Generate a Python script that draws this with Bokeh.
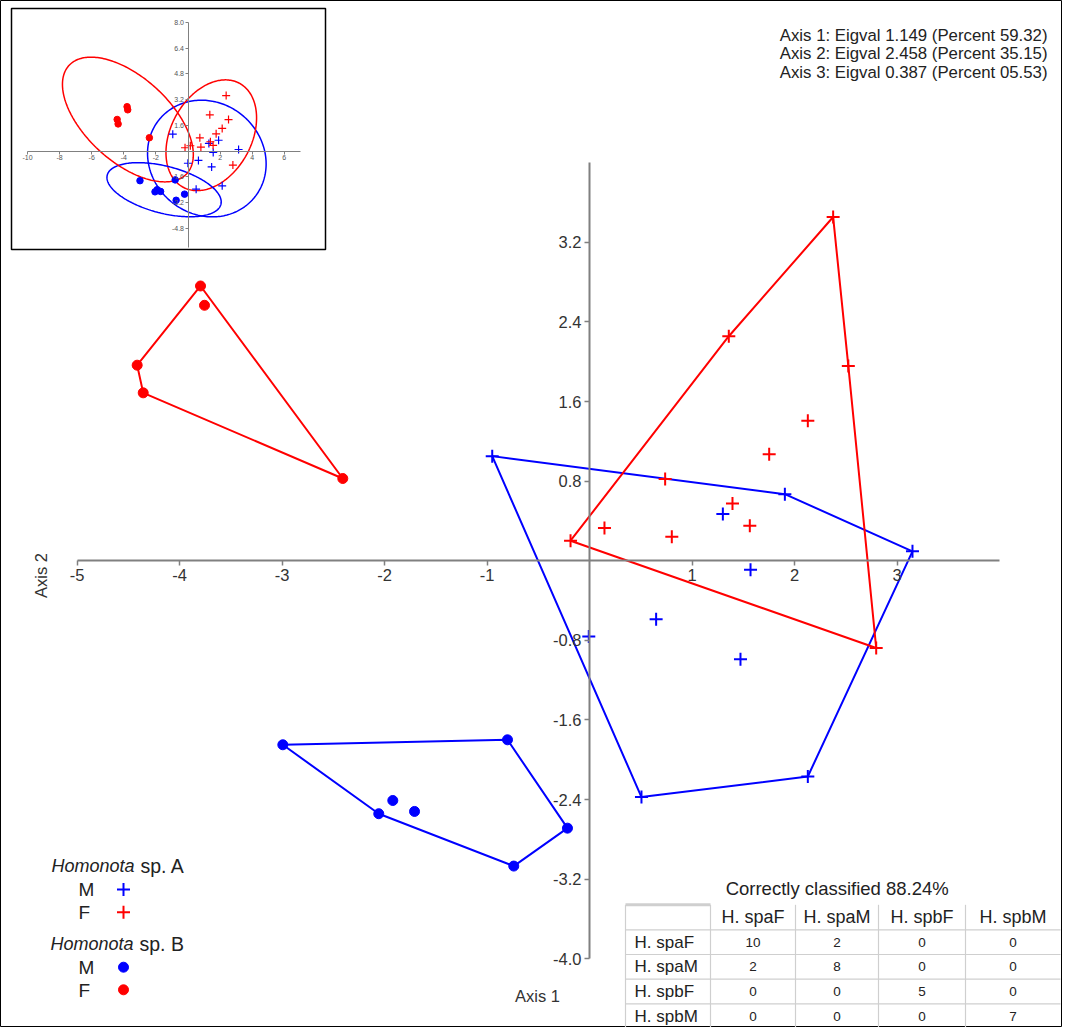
import numpy as np
from bokeh.plotting import figure
from bokeh.models import Range1d, LinearAxis, FixedTicker, NumeralTickFormatter
from bokeh.core.properties import value
from bokeh.embed import file_html
from bokeh.resources import INLINE

# ---------------- data ----------------
# Homonota sp. A, males (blue crosses)
spA_M_x = [-0.949, 1.906, 3.151, 1.301, 1.571, 0.650, -0.007, 1.473, 2.130, 0.507]
spA_M_y = [1.051, 0.669, 0.094, 0.469, -0.090, -0.589, -0.763, -0.991, -2.169, -2.376]
# Homonota sp. A, females (red crosses)
spA_F_x = [2.377, 1.359, 2.525, 2.130, 1.753, 0.738, 1.395, 1.564, 0.146, 0.803, -0.185, 2.797]
spA_F_y = [3.454, 2.256, 1.958, 1.406, 1.071, 0.820, 0.575, 0.351, 0.328, 0.241, 0.201, -0.877]
# Homonota sp. B, males (blue dots)
spB_M_x = [-2.992, -0.800, -0.215, -0.739, -2.056, -1.919, -1.707]
spB_M_y = [-1.850, -1.800, -2.688, -3.069, -2.543, -2.410, -2.520]
# Homonota sp. B, females (red dots)
spB_F_x = [-3.795, -3.756, -4.413, -4.354, -2.407]
spB_F_y = [2.761, 2.567, 1.965, 1.687, 0.826]

x_ticks = [-5, -4, -3, -2, -1, 1, 2, 3]
y_ticks = [-4.0, -3.2, -2.4, -1.6, -0.8, 0.8, 1.6, 2.4, 3.2]
inset_x_ticks = [-10, -8, -6, -4, -2, 2, 4, 6]
inset_y_ticks = [-4.8, -3.2, -1.6, 1.6, 3.2, 4.8, 6.4, 8.0]

eig_axes = ["Axis 1", "Axis 2", "Axis 3"]
eig_vals = ["1.149", "2.458", "0.387"]
eig_pct = ["59.32", "35.15", "05.53"]

classes = ["H. spaF", "H. spaM", "H. spbF", "H. spbM"]
confusion = [[10, 2, 0, 0],
             [2, 8, 0, 0],
             [0, 0, 5, 0],
             [0, 0, 0, 7]]

# ---------------- helpers ----------------
def convex_hull(xs, ys):
    pts = sorted(set(zip(xs, ys)))
    def cross(o, a, b):
        return (a[0]-o[0])*(b[1]-o[1]) - (a[1]-o[1])*(b[0]-o[0])
    lower = []
    for q in pts:
        while len(lower) >= 2 and cross(lower[-2], lower[-1], q) <= 0:
            lower.pop()
        lower.append(q)
    upper = []
    for q in reversed(pts):
        while len(upper) >= 2 and cross(upper[-2], upper[-1], q) <= 0:
            upper.pop()
        upper.append(q)
    h = lower[:-1] + upper[:-1]
    h.append(h[0])
    return [q[0] for q in h], [q[1] for q in h]

def ellipse95(xs, ys):
    X = np.array([xs, ys], dtype=float)
    n = X.shape[1]
    m = X.mean(axis=1)
    C = np.cov(X)
    vals, vecs = np.linalg.eigh(C)
    k = np.sqrt((n - 1) * (0.05 ** (-2.0 / (n - 2)) - 1.0))
    t = np.linspace(0, 2 * np.pi, 240)
    pts = (m[:, None] + k * (vecs[:, [0]] * np.sqrt(vals[0]) * np.cos(t)
                             + vecs[:, [1]] * np.sqrt(vals[1]) * np.sin(t)))
    return pts[0], pts[1]

# ---------------- figure ----------------
W, H = 1062, 1027
OX, OY = 0, 0
# main scale (screen px)
MX0, MXS = 589.0, 102.5
MY0, MYS = 560.2, 99.5
# inset scale
IX0, IY0, IS = 187.5, 150.5, 16.05

FONT = "Liberation Sans"
BLUE = "#0000ff"
RED = "#ff0000"
AXC = "#808080"
TXT = "#333333"

p = figure(width=W, height=H,
           x_range=Range1d((OX - MX0) / MXS, (OX + W - MX0) / MXS),
           y_range=Range1d((MY0 - (OY + H)) / MYS, (MY0 - OY) / MYS),
           min_border=0, toolbar_location=None, output_backend="svg",
           x_axis_location=None, y_axis_location=None)
p.grid.visible = False
p.outline_line_color = "#000000"
p.outline_line_width = 1
p.background_fill_color = "white"
p.border_fill_color = "white"

p.extra_x_ranges = {"px": Range1d(OX, OX + W),
                    "ix": Range1d((OX - IX0) / IS, (OX + W - IX0) / IS)}
p.extra_y_ranges = {"py": Range1d(OY + H, OY),
                    "iy": Range1d((IY0 - (OY + H)) / IS, (IY0 - OY) / IS)}

# ---- main axes crossing at origin ----
xa = LinearAxis(fixed_location=0, bounds=(-5, 4), ticker=FixedTicker(ticks=x_ticks),
                formatter=NumeralTickFormatter(format="0"))
ya = LinearAxis(fixed_location=0, bounds=(-4, 4), ticker=FixedTicker(ticks=y_ticks),
                formatter=NumeralTickFormatter(format="0.0"))
for ax in (xa, ya):
    ax.axis_line_color = AXC
    ax.axis_line_width = 2
    ax.major_tick_line_color = AXC
    ax.major_tick_line_width = 1.5
    ax.major_tick_in = 0
    ax.major_tick_out = 5
    ax.minor_tick_line_color = None
    ax.major_label_text_font = FONT
    ax.major_label_text_font_size = "16.5px"
    ax.major_label_text_color = TXT
    ax.major_label_standoff = 3
p.add_layout(xa, "below")
p.add_layout(ya, "left")

# ---- hulls and points ----
groups = [
    (spA_M_x, spA_M_y, BLUE, "cross"),
    (spA_F_x, spA_F_y, RED, "cross"),
    (spB_M_x, spB_M_y, BLUE, "circle"),
    (spB_F_x, spB_F_y, RED, "circle"),
]
for gx, gy, col, mk in groups:
    hx, hy = convex_hull(gx, gy)
    p.line(hx, hy, line_color=col, line_width=2)
for gx, gy, col, mk in groups:
    if mk == "cross":
        p.scatter(gx, gy, marker="cross", size=13, line_color=col, line_width=2)
    else:
        p.scatter(gx, gy, marker="circle", size=10, fill_color=col, line_color=col)

# ---- inset ----
p.quad(left=[11], right=[325], top=[8], bottom=[249], fill_color="white",
       line_color="#000000", line_width=1.5, x_range_name="px", y_range_name="py")
ixa = LinearAxis(fixed_location=0, bounds=(-10, 7), ticker=FixedTicker(ticks=inset_x_ticks),
                 formatter=NumeralTickFormatter(format="0"),
                 x_range_name="ix", y_range_name="iy")
iya = LinearAxis(fixed_location=0, bounds=(-6, 8), ticker=FixedTicker(ticks=inset_y_ticks),
                 formatter=NumeralTickFormatter(format="0.0"),
                 x_range_name="ix", y_range_name="iy")
for ax in (ixa, iya):
    ax.axis_line_color = AXC
    ax.axis_line_width = 1
    ax.major_tick_line_color = AXC
    ax.major_tick_in = 0
    ax.major_tick_out = 3
    ax.minor_tick_line_color = None
    ax.major_label_text_font = FONT
    ax.major_label_text_font_size = "7px"
    ax.major_label_text_color = "#555555"
    ax.major_label_standoff = 1
p.add_layout(ixa, "below")
p.add_layout(iya, "left")

for gx, gy, col, mk in groups:
    ex, ey = ellipse95(gx, gy)
    p.line(ex, ey, line_color=col, line_width=1.5, x_range_name="ix", y_range_name="iy")
for gx, gy, col, mk in groups:
    if mk == "cross":
        p.scatter(gx, gy, marker="cross", size=8, line_color=col, line_width=1.2,
                  x_range_name="ix", y_range_name="iy")
    else:
        p.scatter(gx, gy, marker="circle", size=6.5, fill_color=col, line_color=col,
                  x_range_name="ix", y_range_name="iy")

# ---- texts ----
def txt(x, y, t, size, align="left", color=TXT, style="normal", angle=0.0):
    p.text(x=x, y=y, text=t, x_range_name="px", y_range_name="py",
           text_font=value(FONT), text_font_size=value(size), text_align=align,
           text_baseline="middle", text_color=color, text_font_style=style, angle=angle)

eig_lines = [f"{a}: Eigval {v} (Percent {c})" for a, v, c in zip(eig_axes, eig_vals, eig_pct)]
txt([1047] * 3, [35, 53.4, 71.8], eig_lines, "16.8px", align="right", color="#222222")

txt([537], [995], ["Axis 1"], "16.5px", align="center")
txt([40], [575], ["Axis 2"], "16.5px", align="center", angle=np.pi / 2)

# ---- legend ----
txt([51, 50], [865, 943.3], ["Homonota", "Homonota"], "18px", color="#222222", style="italic")
txt([140, 139], [865, 943.3], ["sp. A", "sp. B"], "19.5px", color="#222222")
txt([78, 78, 78, 78], [889, 911.7, 966.7, 989.7], ["M", "F", "M", "F"], "19px", color="#222222")
p.scatter([123, 123], [889, 911.7], marker="cross", size=13, line_color=[BLUE, RED], line_width=2,
          x_range_name="px", y_range_name="py")
p.scatter([123, 123], [966.7, 989.3], marker="circle", size=10, fill_color=[BLUE, RED],
          line_color=[BLUE, RED], x_range_name="px", y_range_name="py")

# ---- classification table ----
total = sum(sum(r) for r in confusion)
correct = sum(confusion[i][i] for i in range(len(confusion)))
txt([836.7], [888], [f"Correctly classified {100.0 * correct / total:.2f}%"], "18.5px", align="center",
    color="#222222")

col_edges = [625, 710, 795, 878, 965, 1060]
row_edges = [904.3, 929.3, 954, 978.7, 1003.3, 1028]
GRID = "#cfcfcf"
p.segment(x0=[col_edges[0]] * 5, y0=row_edges[1:], x1=[col_edges[-1]] * 5, y1=row_edges[1:],
          line_color=GRID, line_width=1.2, x_range_name="px", y_range_name="py")
p.segment(x0=[col_edges[0]], y0=[row_edges[0]], x1=[col_edges[1]], y1=[row_edges[0]],
          line_color=GRID, line_width=3, x_range_name="px", y_range_name="py")
p.segment(x0=col_edges[:-1], y0=[row_edges[0]] * 5, x1=col_edges[:-1], y1=[row_edges[-1]] * 5,
          line_color=GRID, line_width=1.2, x_range_name="px", y_range_name="py")

col_c = [(col_edges[i] + col_edges[i + 1]) / 2 for i in range(1, 5)]
row_c = [(row_edges[i] + row_edges[i + 1]) / 2 for i in range(1, 5)]
hdr_y = (row_edges[0] + row_edges[1]) / 2
txt(col_c, [hdr_y] * 4, classes, "18px", align="center", color="#222222")
txt([634] * 4, row_c, classes, "17px", color="#222222")
vx, vy, vt = [], [], []
for i, row in enumerate(confusion):
    for j, v in enumerate(row):
        vx.append(col_c[j]); vy.append(row_c[i]); vt.append(str(v))
txt(vx, vy, vt, "13.5px", align="center", color="#222222")

open("out.html", "w").write(file_html(p, INLINE))
